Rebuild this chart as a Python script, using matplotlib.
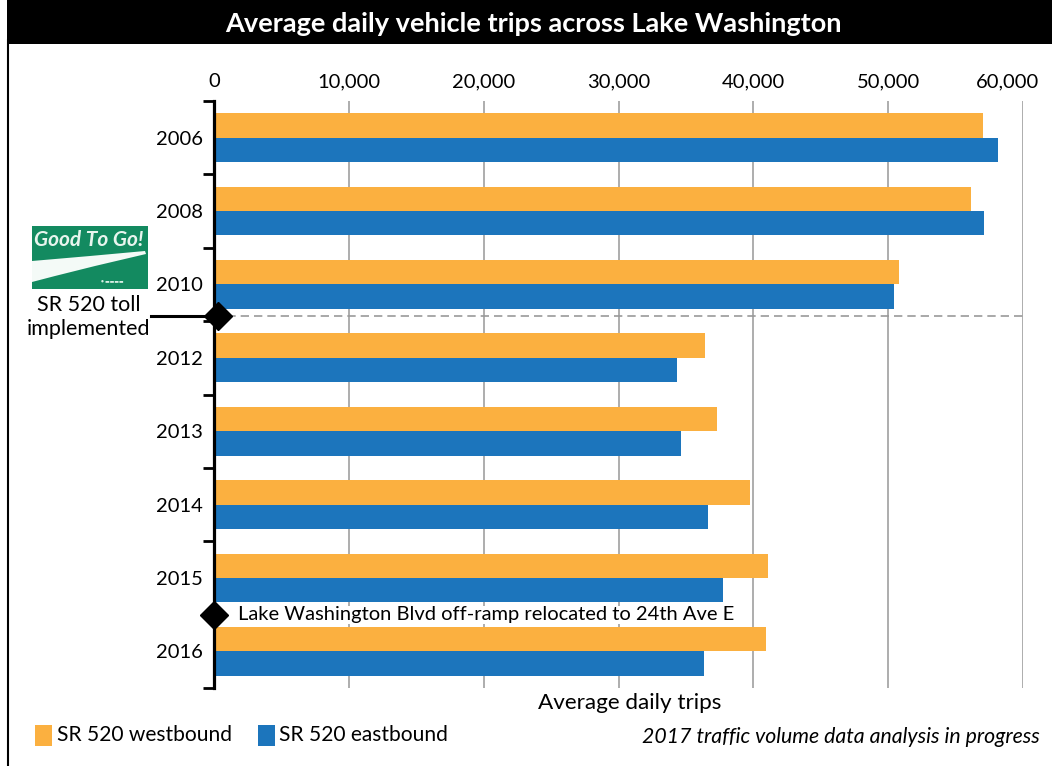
import matplotlib
matplotlib.use("Agg")
import matplotlib.pyplot as plt
from matplotlib.patches import Rectangle, Polygon
import matplotlib.transforms as mtransforms
import numpy as np

plt.rcParams['font.family'] = ['Lato', 'DejaVu Sans']

years = ["2006", "2008", "2010", "2012", "2013", "2014", "2015", "2016"]
westbound = [57050, 56150, 50800, 36400, 37300, 39750, 41100, 40950]
eastbound = [58150, 57100, 50450, 34350, 34650, 36650, 37750, 36350]
xticks = [0, 10000, 20000, 30000, 40000, 50000, 60000]
xtick_labels = ["0", "10,000", "20,000", "30,000", "40,000", "50,000", "60,000"]
title = "Average daily vehicle trips across Lake Washington"
xlabel = "Average daily trips"
legend_labels = ["SR 520 westbound", "SR 520 eastbound"]
note = "2017 traffic volume data analysis in progress"
toll_note = "SR 520 toll\nimplemented"
ramp_note = "Lake Washington Blvd off-ramp relocated to 24th Ave E"
toll_pos = 2.43
ramp_pos = 6.5

ORANGE = "#FBB040"
BLUE = "#1C75BC"
W, H = 1052, 766

fig = plt.figure(figsize=(W / 100, H / 100), dpi=100)

def fx(px):
    return px / W

def fy(py):
    return 1 - py / H

ax = fig.add_axes([fx(214), fy(688), (1023 - 214) / W, (688 - 101) / H])

y = np.arange(len(years))
bh = 0.333
ax.barh(y - bh / 2, westbound, height=bh, color=ORANGE, zorder=3)
ax.barh(y + bh / 2, eastbound, height=bh, color=BLUE, zorder=3)

ax.set_xlim(0, 60000)
ax.set_ylim(len(years) - 0.5, -0.5)

for s in ["top", "right", "bottom"]:
    ax.spines[s].set_visible(False)
ax.spines["left"].set_linewidth(2.3)
ax.spines["left"].set_zorder(5)

ax.xaxis.tick_top()
ax.set_xticks(xticks)
ax.set_xticklabels(xtick_labels, fontsize=14.5)
ax.tick_params(axis="x", length=0, pad=8)
ax.grid(axis="x", color="#a0a0a0", linewidth=1.2, zorder=0)
# shift the last tick label left so it stays inside the figure
last = ax.get_xticklabels()[-1]
last.set_transform(last.get_transform() + mtransforms.ScaledTranslation(-16 / 100, 0, fig.dpi_scale_trans))

ax.set_yticks(np.arange(-0.5, len(years), 1.0))
ax.set_yticklabels([])
ax.set_yticks(y, minor=True)
ax.set_yticklabels(years, minor=True, fontsize=14.5)
ax.tick_params(axis="y", which="major", length=8, width=2.0, direction="out")
ax.tick_params(axis="y", which="minor", length=0, pad=8)

# dashed toll line
ax.plot([0, 60000], [toll_pos, toll_pos], ls=(0, (5, 3)), color="#999999", lw=1.2, zorder=2)
ax.plot([-0.0775 * 60000, 0], [toll_pos, toll_pos], color="black", lw=2.2, clip_on=False, zorder=6)
ax.plot([300], [toll_pos], marker="D", color="black", markersize=14, clip_on=False, zorder=7)
ax.plot([0], [ramp_pos], marker="D", color="black", markersize=14, clip_on=False, zorder=7)
ax.text(1800, ramp_pos, ramp_note, fontsize=14.5, va="center", ha="left", zorder=8,
        bbox=dict(facecolor="white", edgecolor="none", pad=0.5))

# title bar
fig.patches.append(Rectangle((fx(7), fy(44)), 1 - fx(7), 44 / H, transform=fig.transFigure,
                             facecolor="black", edgecolor="none", zorder=0))
fig.text(fx(533), fy(24), title, color="white", fontsize=19.5, fontweight="bold",
         ha="center", va="center")
# left border
fig.lines.append(plt.Line2D([fx(7.5), fx(7.5)], [0, fy(40)], transform=fig.transFigure,
                            color="black", lw=1.5))

# Good To Go logo
lx0, lx1, ly0, ly1 = 32, 148, 226, 289
fig.patches.append(Rectangle((fx(lx0), fy(ly1)), (lx1 - lx0) / W, (ly1 - ly0) / H,
                             transform=fig.transFigure, facecolor="#138a60", edgecolor="none"))
fig.text(fx(89), fy(240), "Good To Go!", color="#e8f5ee", fontsize=15, fontweight="bold",
         style="italic", ha="center", va="center")
fig.patches.append(Polygon([(fx(lx0), fy(261)), (fx(90), fy(256)), (fx(145), fy(251)),
                            (fx(146), fy(254)), (fx(95), fy(266)), (fx(55), fy(276)),
                            (fx(lx0), fy(282))],
                           closed=True, transform=fig.transFigure,
                           facecolor="#f4faf7", edgecolor="none"))
fig.text(fx(112), fy(282), "\u25cf ▬▬▬▬", color="#d8eee4", fontsize=3.5, ha="center", va="center")
fig.text(fx(89), fy(317), toll_note, fontsize=15.5, ha="center", va="center", linespacing=1.2)

# x label
fig.text(fx(630), fy(703), xlabel, fontsize=16.2, ha="center", va="center")

# legend
fig.patches.append(Rectangle((fx(35), fy(746)), 17 / W, 21 / H, transform=fig.transFigure,
                             facecolor=ORANGE, edgecolor="none"))
fig.text(fx(57), fy(735), legend_labels[0], fontsize=15.1, ha="left", va="center")
fig.patches.append(Rectangle((fx(258), fy(746)), 17 / W, 21 / H, transform=fig.transFigure,
                             facecolor=BLUE, edgecolor="none"))
fig.text(fx(279), fy(735), legend_labels[1], fontsize=15.1, ha="left", va="center")
fig.text(fx(1040), fy(737), note, fontsize=15.3, style="italic", ha="right", va="center")

fig.savefig("out.png", dpi=100)
